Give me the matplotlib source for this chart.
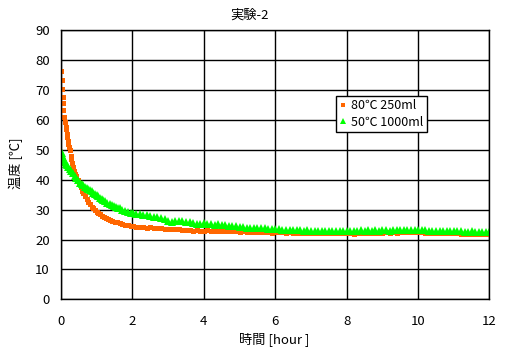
import matplotlib
matplotlib.use("Agg")
import matplotlib.pyplot as plt
import numpy as np

plt.rcParams['font.family'] = ['Noto Sans CJK JP', 'DejaVu Sans']

title = "実験-2"
xlabel = "時間 [hour ]"
ylabel = "温度 [℃]"
series_names = ["80℃ 250ml", "50℃ 1000ml"]
xticks = [0, 2, 4, 6, 8, 10, 12]
yticks = [0, 10, 20, 30, 40, 50, 60, 70, 80, 90]

# 80℃ 250ml  (time in hours, temperature in ℃)
t_hot_early = [0.00, 0.02, 0.03, 0.05, 0.06, 0.07, 0.09, 0.11, 0.13, 0.14, 0.16, 0.18,
               0.20, 0.21, 0.23, 0.25, 0.27, 0.28, 0.31, 0.34, 0.37, 0.40, 0.43, 0.47,
               0.51, 0.55, 0.59, 0.63, 0.67, 0.72, 0.76, 0.81, 0.86, 0.90, 0.95, 1.00,
               1.05, 1.10, 1.15, 1.20, 1.26, 1.32, 1.38, 1.44, 1.50, 1.57, 1.65, 1.72,
               1.80, 1.88, 1.95, 2.02]
T_hot_early = [76.5, 73.4, 70.3, 67.8, 65.6, 63.2, 61.1, 59.4, 57.8, 57.0, 55.2, 54.2,
               53.0, 52.0, 51.0, 49.9, 48.0, 46.8, 45.5, 44.3, 43.0, 42.0, 41.2, 40.0,
               38.8, 37.6, 36.4, 35.4, 34.5, 33.4, 32.6, 31.8, 31.0, 30.4, 29.9, 29.3,
               28.8, 28.4, 28.0, 27.6, 27.2, 26.9, 26.5, 26.2, 26.0, 25.7, 25.4, 25.1,
               24.9, 24.7, 24.5, 24.4]
T_hot_late = [24.3, 24.2, 24.2, 24.0, 24.1, 23.9, 23.9, 23.7, 23.6, 23.4,
              23.5, 23.4, 23.5, 23.3, 23.3, 23.2, 22.8, 23.1, 22.9, 23.0,
              23.1, 22.9, 22.8, 22.9, 22.8, 22.9, 22.7, 22.8, 22.7, 22.6,
              22.7, 22.5, 22.6, 22.4, 22.6, 22.5, 22.4, 22.5, 22.3, 22.4,
              22.5, 22.4, 22.3, 22.4, 22.2, 22.3, 22.3, 22.2, 22.3, 22.2,
              22.3, 22.1, 22.2, 22.2, 22.1, 22.3, 22.2, 22.2, 22.3, 22.2,
              22.3, 22.0, 22.2, 22.3, 22.2, 22.3, 22.2, 22.3, 22.2, 22.3,
              22.4, 22.3, 22.4, 22.3, 22.4, 22.5, 22.4, 22.5, 22.6, 22.5,
              22.4, 22.3, 22.3, 22.2, 22.3, 22.2, 22.2, 22.1, 22.2, 22.1,
              22.1, 22.0, 21.9, 21.9, 21.8, 21.9, 21.8, 21.9, 21.8, 21.8]

# 50℃ 1000ml
t_warm_early = [0.00, 0.01, 0.02, 0.03, 0.05, 0.07, 0.10, 0.13, 0.16, 0.20, 0.24, 0.28,
                0.34, 0.38, 0.43, 0.48, 0.53, 0.58, 0.62, 0.67, 0.72, 0.76, 0.81, 0.86,
                0.90, 0.95, 1.00, 1.05, 1.10, 1.14, 1.18, 1.24, 1.30, 1.36, 1.42, 1.48,
                1.55, 1.60, 1.65, 1.72, 1.80, 1.88, 1.95, 2.02]
T_warm_early = [48.8, 49.4, 49.0, 48.3, 47.5, 46.6, 46.0, 45.3, 44.8, 44.3, 43.6, 42.9,
                42.1, 41.4, 40.6, 39.9, 39.0, 38.5, 38.2, 37.6, 37.2, 36.9, 36.6, 36.1,
                35.7, 35.3, 34.9, 34.5, 34.0, 33.6, 33.2, 32.8, 32.3, 31.8, 31.5, 31.2,
                30.8, 30.6, 30.4, 30.0, 29.6, 29.3, 29.0, 28.8]
T_warm_late = [28.7, 28.5, 28.3, 28.1, 27.9, 27.7, 27.5, 27.2, 26.8, 26.2,
               25.8, 26.2, 26.3, 26.1, 26.0, 25.7, 25.4, 25.1, 25.2, 25.4,
               25.3, 25.2, 25.0, 25.1, 24.8, 24.7, 24.6, 24.5, 24.4, 24.3,
               24.2, 24.0, 23.9, 24.0, 23.8, 23.8, 23.7, 23.6, 23.5, 23.6,
               23.4, 23.3, 23.3, 23.2, 23.3, 23.1, 23.2, 23.0, 23.1, 23.0,
               23.0, 22.9, 23.0, 22.9, 23.0, 22.9, 22.9, 23.0, 22.9, 23.0,
               22.9, 23.0, 23.0, 23.1, 23.0, 23.1, 23.0, 23.1, 23.0, 23.1,
               23.1, 23.0, 23.1, 23.2, 23.1, 23.1, 23.2, 23.2, 23.3, 23.2,
               23.3, 23.1, 23.0, 23.0, 22.9, 23.0, 22.9, 22.9, 23.0, 22.8,
               22.9, 22.8, 22.6, 22.5, 22.7, 22.5, 22.6, 22.5, 22.6, 22.4]

t_late = [round(2.1 + 0.1 * i, 1) for i in range(100)]

t_hot = t_hot_early + t_late
T_hot = T_hot_early + T_hot_late
t_warm = t_warm_early + t_late
T_warm = T_warm_early + T_warm_late

fig = plt.figure(figsize=(5.06, 3.54), dpi=100)
ax = fig.add_axes([61/506, 1 - 299.3/354, (489.5 - 61)/506, (299.3 - 30.3)/354])

ax.plot(t_hot, T_hot, linestyle='none', marker='s', markersize=3.6,
        color='#FF6600', markeredgewidth=0, label=series_names[0])
ax.plot(t_warm, T_warm, linestyle='none', marker='^', markersize=5.5,
        color='#00FF00', markeredgewidth=0, label=series_names[1])

ax.set_xlim(0, 12)
ax.set_ylim(0, 90)
ax.set_xticks(xticks)
ax.set_yticks(yticks)
ax.grid(True, color='black', linewidth=1.0)
ax.set_axisbelow(True)
for s in ax.spines.values():
    s.set_color('black')
    s.set_linewidth(1.0)
ax.tick_params(axis='both', length=0, labelsize=9.5, colors='black')
ax.tick_params(axis='x', pad=11)
ax.tick_params(axis='y', pad=8)

fig.text(250/506, 1 - 15/354, title, ha='center', va='center', fontsize=9.5)
fig.text(274/506, 1 - 339/354, xlabel, ha='center', va='center', fontsize=9.5)
fig.text(16/506, 1 - 163/354, ylabel, ha='center', va='center', rotation=90, fontsize=9.5)

leg = ax.legend(loc='upper left', bbox_to_anchor=((335.7 - 61)/428.5, 1 - (95.7 - 30.3)/269),
                fontsize=9, frameon=True, fancybox=False, edgecolor='black',
                framealpha=1, borderpad=0.3, handlelength=0.5, handletextpad=0.4,
                labelspacing=0.25, borderaxespad=0, markerscale=0.8)
leg.get_frame().set_linewidth(1.0)

fig.savefig('out.png', dpi=100)
